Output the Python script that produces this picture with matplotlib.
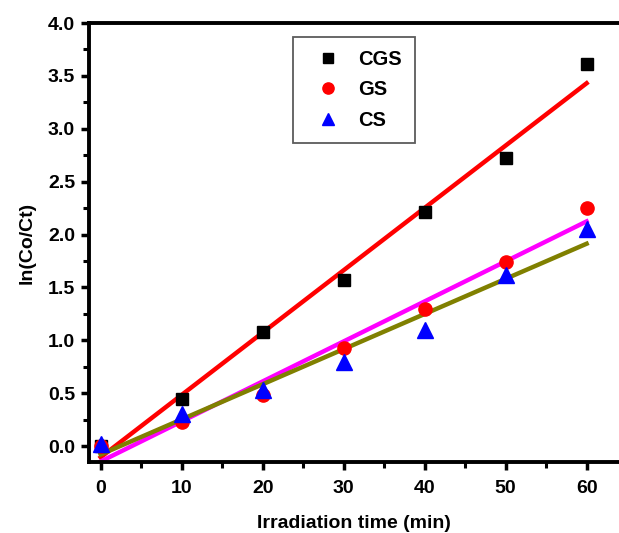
import numpy as np
import matplotlib.pyplot as plt
from matplotlib.ticker import MultipleLocator

plt.rcParams['font.family'] = ['Liberation Sans', 'DejaVu Sans']
plt.rcParams['font.weight'] = 'bold'

time_min = [0, 10, 20, 30, 40, 50, 60]
cgs = [0.0, 0.45, 1.08, 1.57, 2.21, 2.72, 3.61]
gs = [0.0, 0.23, 0.48, 0.93, 1.30, 1.74, 2.25]
cs = [0.02, 0.30, 0.53, 0.80, 1.10, 1.62, 2.05]

fig = plt.figure(figsize=(6.19, 5.33), dpi=100)
ax = fig.add_axes([0.1438, 0.1332, 0.8562, 0.8236])

x = np.array(time_min)
xx = np.linspace(0, 60, 50)

# linear fits
for y, c in [(cgs, '#ff0000'), (gs, '#ff00ff'), (cs, '#808000')]:
    k, b = np.polyfit(x, y, 1)
    ax.plot(xx, k * xx + b, color=c, lw=3.2, zorder=2)

ax.plot(x, cgs, 's', color='black', ms=8.8, ls='none', label='CGS', zorder=3)
ax.plot(x, gs, 'o', color='#ff0000', ms=9.5, ls='none', label='GS', zorder=3)
ax.plot(x, cs, '^', color='#0000ff', ms=11, ls='none', label='CS', zorder=3)

ax.set_xlim(-1.44, 64.0)
ax.set_ylim(-0.15, 4.0)
ax.xaxis.set_major_locator(MultipleLocator(10))
ax.xaxis.set_minor_locator(MultipleLocator(5))
ax.yaxis.set_minor_locator(MultipleLocator(0.25))
ax.set_yticks(np.arange(0, 4.01, 0.5))
ax.set_yticklabels([f"{v:.1f}" for v in np.arange(0, 4.01, 0.5)])

for s in ax.spines.values():
    s.set_linewidth(2.8)
ax.spines['right'].set_visible(False)
ax.tick_params(which='major', direction='out', length=6, width=2.5, labelsize=14)
ax.tick_params(axis='x', which='major', pad=7)
ax.tick_params(axis='y', which='major', pad=4)
ax.tick_params(which='minor', direction='out', length=4, width=2.2)

ax.set_xlabel('Irradiation time (min)', fontsize=14, fontweight='bold', labelpad=13)
ax.set_ylabel('ln(Co/Ct)', fontsize=14, fontweight='bold', labelpad=9)

leg = ax.legend(loc='upper left', bbox_to_anchor=(293 / 619, 1 - 37 / 533),
                bbox_transform=fig.transFigure, fontsize=14.5, markerscale=0.85,
                frameon=True, fancybox=False, edgecolor='#333333',
                handlelength=2.2, handletextpad=0.4, borderpad=0.65,
                labelspacing=0.56, borderaxespad=0)
leg.get_frame().set_linewidth(1.3)

fig.savefig('out.png', dpi=100)
